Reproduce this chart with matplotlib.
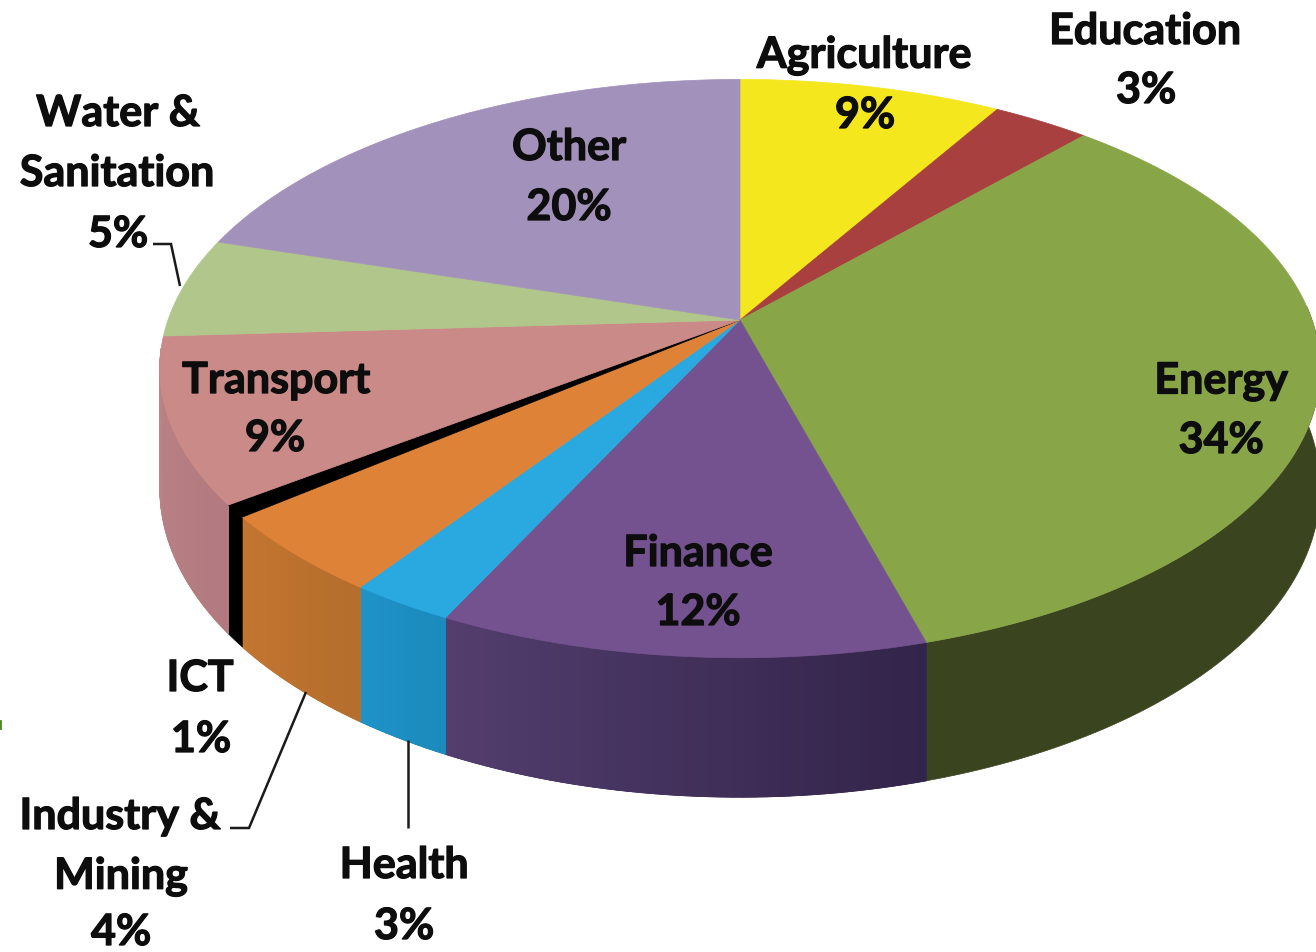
#!/usr/bin/env python3
"""
Perspective 3D pie of sector shares. Axes are in image pixels.
"""
import numpy as np
from matplotlib import pyplot as plt
from matplotlib import patheffects
from matplotlib.collections import PolyCollection
from matplotlib.colors import to_rgb

sectors = ["Agriculture", "Education", "Energy", "Finance", "Health", "Industry", "ICT", "Transport", "Water", "Other"]
shares = [8.6, 3.2, 33.8, 11.6, 2.5, 4.5, 0.7, 9.2, 5.6, 20.3]
top_colors = ["#f5e71e", "#a84040", "#88a648", "#74528f", "#29a9e0", "#de8237", "#000000", "#ca8a88", "#b1c68a", "#a291ba"]
side_start = ["#c9bd18", "#863333", "#3a4520", "#32244a", "#1b8abc", "#b56e2c", "#000000", "#b27a80", "#8d9e6e", "#816f95"]
side_end = ["#c9bd18", "#863333", "#3a4520", "#533e6e", "#1f92c8", "#c27530", "#000000", "#bb8486", "#8d9e6e", "#816f95"]

# text, x, y per line
labels = [
  ("Agriculture", 864, 55), ("9%", 865, 115),
  ("Education", 1145, 31), ("3%", 1146, 90),
  ("Energy", 1221, 381), ("34%", 1221, 440),
  ("Finance", 698, 553), ("12%", 698, 612),
  ("Other", 569, 147), ("20%", 569, 207),
  ("Transport", 276, 380), ("9%", 275, 438),
  ("Water &", 118, 113), ("Sanitation", 117, 173), ("5%", 118, 234),
  ("ICT", 200, 678), ("1%", 201, 739),
  ("Industry &", 120, 816), ("Mining", 121, 876), ("4%", 121, 932),
  ("Health", 404, 865), ("3%", 404, 926),
]
leaders = [
  ([153, 171, 180], [244, 244, 286]),
  ([230, 249, 306], [828, 828, 692]),
  ([408, 408], [740, 828]),
]

CX, CY = 740, 320   # apex of the wedges
RX, RY = 572, 281
PERSP = 0.168
DEPTH = 116

def project(theta, depth=0):
  "Clockwise angle from the top (radians) to image pixels."
  u, v = np.sin(theta), np.cos(theta)
  w = 1 + PERSP*v
  return CX + RX*u/w, CY - RY*v/w + depth/w

fig = plt.figure(figsize=(13.16, 9.52), dpi=100)
ax = fig.add_axes([0, 0, 1, 1])
ax.set_xlim(0, 1316)
ax.set_ylim(952, 0)
ax.axis("off")

edges = np.cumsum([0]+shares)/sum(shares)*2*np.pi

# side wall: flat base for each slice, then thin strips for the shading
for i in range(len(shares)):
  a0, a1 = max(edges[i], np.pi/2-0.05), min(edges[i+1], 3*np.pi/2-0.1)
  if a1<=a0: continue
  steps = np.linspace(a0, a1, max(int((a1-a0)*60), 2)+1)
  c0, c1 = np.array(to_rgb(side_start[i])), np.array(to_rgb(side_end[i]))
  xt, yt = project(steps)
  xb, yb = project(steps, DEPTH)
  ax.fill(np.r_[xt, xb[::-1]], np.r_[yt, yb[::-1]], color=(c0+c1)/2, lw=0.5, zorder=2)
  if np.allclose(c0, c1): continue
  polys, cols = [], []
  for j in range(len(steps)-1):
    polys.append(np.column_stack([np.r_[xt[j:j+2], xb[j:j+2][::-1]], np.r_[yt[j:j+2], yb[j:j+2][::-1]]]))
    cols.append(c0+(c1-c0)*j/max(len(steps)-2, 1))
  ax.add_collection(PolyCollection(polys, facecolors=cols, edgecolors=cols, linewidths=0.6, zorder=2))

# top face
for i in range(len(shares)):
  steps = np.linspace(edges[i], edges[i+1], 80)
  x, y = project(steps)
  ax.fill(np.r_[CX, x], np.r_[CY, y], color=top_colors[i], lw=0.5, zorder=3)

for lx, ly in leaders:
  ax.plot(lx, ly, color="#1a1a1a", lw=1.8, zorder=4, solid_capstyle="butt", solid_joinstyle="miter")

# scan speck on the left edge of the original
ax.plot([0, 0], [721, 728], color="#4a8a20", lw=2)

bold = [patheffects.withStroke(linewidth=0.9, foreground="#0d0d0d")]
for txt, x, y in labels:
  ax.text(x, y, txt, family="Lato", weight="bold", fontsize=31, color="#0d0d0d", ha="center", va="center", zorder=5, path_effects=bold)

fig.savefig("out.png", dpi=100, facecolor="white")
